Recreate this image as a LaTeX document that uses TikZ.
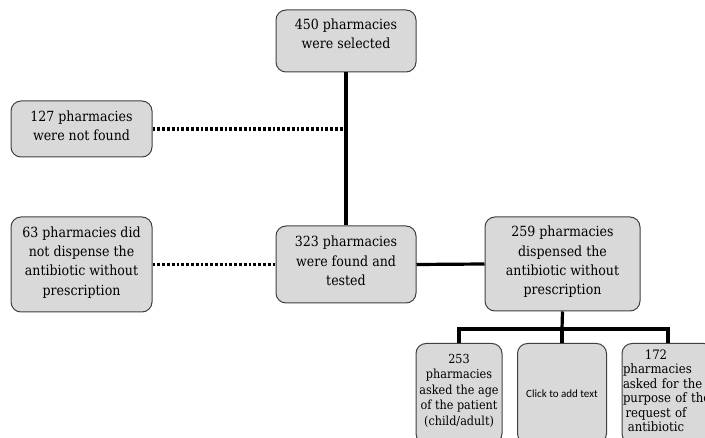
\documentclass[tikz,border=0pt]{standalone}
\usepackage{fontspec}
\setmainfont{DejaVu Serif Condensed}
\newfontfamily\clickfont{Carlito}
\definecolor{boxfill}{HTML}{D9D9D9}
\definecolor{boxline}{HTML}{404040}
\begin{document}
\begin{tikzpicture}[x=1pt,y=-1pt,
  box/.style={draw=boxline,fill=boxfill,line width=1pt,rounded corners=10pt,align=center,inner sep=2pt},
  bigtext/.style={font=\fontsize{14}{19.3}\selectfont},
  smalltext/.style={font=\fontsize{12.5}{15.6}\selectfont},
  solidcon/.style={line width=3.2pt,draw=black},
  dotcon/.style={line width=3.2pt,draw=black,dash pattern=on 2.8pt off 2pt}]
\useasboundingbox (0,0) rectangle (705,438);
\clip (0,0) rectangle (705,438);
\node[box,bigtext,minimum width=140,minimum height=62] (sel) at (346,41) {450 pharmacies\\were selected\\[-4pt]\mbox{}};
\node[box,bigtext,minimum width=141,minimum height=56] (nf) at (81.5,129) {127 pharmacies\\were not found\\[-12pt]\mbox{}};
\node[box,bigtext,minimum width=141,minimum height=95] (nd) at (81.5,264.5) {63 pharmacies did\\not dispense the\\antibiotic without\\prescription\\[-12pt]\mbox{}};
\node[box,bigtext,minimum width=140,minimum height=77] (found) at (346,264.5) {323 pharmacies\\were found and\\tested\\[-12pt]\mbox{}};
\node[box,bigtext,minimum width=155,minimum height=94] (disp) at (562.5,264) {259 pharmacies\\dispensed the\\antibiotic without\\prescription\\[-12pt]\mbox{}};
\node[box,smalltext,minimum width=86,minimum height=100,anchor=north] (c1) at (459,343) {253\\pharmacies\\asked the age\\of the patient\\(child/adult)\\[-8pt]\mbox{}};
\node[box,font=\clickfont\fontsize{11}{14}\selectfont,minimum width=89,minimum height=100,anchor=north] (c2) at (562,343) {Click to add text};
\node[box,minimum width=92,minimum height=100,anchor=north] (c3) at (668,343) {};
\node[font=\fontsize{13}{14.5}\selectfont,align=center,text width=66pt,inner sep=0pt] (c3t) at (656,391) {172\\\mbox{pharmacies}\\\mbox{asked for the}\\\mbox{purpose of the}\\\mbox{request of}\\\mbox{antibiotic}};
\coordinate (bar) at (562,329);
\draw[solidcon] (sel.south) -- (found.north);
\draw[dotcon] (nf.east) -- ([xshift=-2pt]nf.east -| sel.south);
\draw[dotcon] (nd.east) -- (found.west);
\draw[solidcon] (found.east) -- (disp.west);
\draw[solidcon] (disp.south) -- (bar);
\draw[solidcon] (c1.north) |- (bar) -| (c3.north);
\draw[solidcon] (bar) -- (c2.north);
\end{tikzpicture}
\end{document}
